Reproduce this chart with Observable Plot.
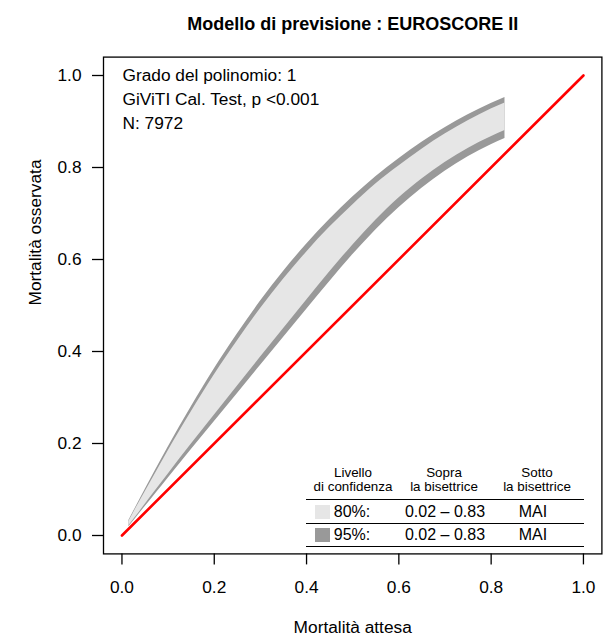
<!DOCTYPE html>
<html>
<head>
<meta charset="utf-8">
<script src="https://cdn.jsdelivr.net/npm/d3@7"></script>
<script src="https://cdn.jsdelivr.net/npm/@observablehq/plot@0.6"></script>
<style>
  html, body { margin: 0; padding: 0; background: #fff; }
  #wrap { position: relative; width: 608px; height: 639px; overflow: hidden; font-family: "Liberation Sans", Arial, sans-serif; }
  #legend { position: absolute; left: 0; top: 0; width: 608px; height: 639px; pointer-events: none; }
  #legend .t { position: absolute; transform: translate(-50%, -50%); white-space: nowrap; color: #000; }
  #legend .h { font-size: 13.4px; line-height: 14px; text-align: center; }
  #legend .r { font-size: 16px; }
  #legend .rule { position: absolute; height: 0; border-top: 1.5px solid #000; }
  #legend .sw { position: absolute; width: 15px; height: 14px; }
</style>
</head>
<body>
<div id="wrap"></div>
<script>
// ---- data ----
const expected = [0.015, 0.03, 0.05, 0.075, 0.1, 0.15, 0.2, 0.25, 0.3, 0.35, 0.4, 0.45, 0.5, 0.55, 0.6, 0.65, 0.7, 0.75, 0.8, 0.83];
const upper95 = [0.0326, 0.0616, 0.0996, 0.1463, 0.1919, 0.2795, 0.362, 0.438, 0.509, 0.574, 0.633, 0.687, 0.7356, 0.780, 0.819, 0.8548, 0.8866, 0.9148, 0.9393, 0.9524];
const upper80 = [0.0306, 0.0586, 0.0946, 0.1393, 0.1839, 0.2685, 0.349, 0.423, 0.493, 0.557, 0.616, 0.670, 0.7186, 0.764, 0.803, 0.8398, 0.8726, 0.9018, 0.9273, 0.9404];
const lower80 = [0.021, 0.0406, 0.0674, 0.1004, 0.1334, 0.1984, 0.2614, 0.3244, 0.3874, 0.4494, 0.5114, 0.5729, 0.6312, 0.6852, 0.7335, 0.775, 0.811, 0.8413, 0.8666, 0.8803];
const lower95 = [0.019, 0.0376, 0.0624, 0.0934, 0.1244, 0.1864, 0.2474, 0.3084, 0.3694, 0.4304, 0.4914, 0.5519, 0.6102, 0.6642, 0.7125, 0.755, 0.792, 0.8233, 0.8496, 0.8633];
const bisectorX = [0, 1];
const bisectorY = [0, 1];
const xTicks = [0, 0.2, 0.4, 0.6, 0.8, 1.0];
const yTicks = [0, 0.2, 0.4, 0.6, 0.8, 1.0];
const titleText = "Modello di previsione : EUROSCORE II";
const xLabel = "Mortalità attesa";
const yLabel = "Mortalità osservata";
const infoLines = ["Grado del polinomio: 1", "GiViTI Cal. Test, p <0.001", "N: 7972"];
const legendHeaders = ["Livello\ndi confidenza", "Sopra\nla bisettrice", "Sotto\nla bisettrice"];
const legendLevels = ["80%:", "95%:"];
const legendAbove = ["0.02 – 0.83", "0.02 – 0.83"];
const legendBelow = ["MAI", "MAI"];
const legendColors = ["#e6e6e6", "#999999"];

const belt = expected.map((x, i) => ({x, u95: upper95[i], u80: upper80[i], l80: lower80[i], l95: lower95[i]}));
const bisector = bisectorX.map((x, i) => ({x, y: bisectorY[i]}));

const W = 608, H = 639;
const mL = 103, mR = 6.6, mT = 56.6, mB = 85.6;
const fmt = d3.format(".1f");

const chart = Plot.plot({
  width: W, height: H,
  marginLeft: mL, marginRight: mR, marginTop: mT, marginBottom: mB,
  style: {fontFamily: "'Liberation Sans', Arial, sans-serif", fontSize: "17.3px", background: "#fff", color: "#000"},
  x: {domain: [-0.04, 1.04]},
  y: {domain: [-0.04, 1.04]},
  marks: [
    Plot.areaY(belt, {x: "x", y1: "l95", y2: "u95", fill: "#999999", curve: "monotone-x"}),
    Plot.areaY(belt, {x: "x", y1: "l80", y2: "u80", fill: "#e6e6e6", curve: "monotone-x"}),
    Plot.line(bisector, {x: "x", y: "y", stroke: "#ff0000", strokeWidth: 2.6, strokeLinecap: "round"}),
    Plot.frame({stroke: "#000", strokeWidth: 1.3}),
    Plot.axisX({ticks: xTicks, tickFormat: fmt, tickSize: 11, tickPadding: 16, label: null, strokeWidth: 1.3}),
    Plot.axisY({ticks: yTicks, tickFormat: fmt, tickSize: 11, tickPadding: 11, label: null, strokeWidth: 1.3}),
    Plot.text([titleText], {frameAnchor: "top", lineAnchor: "middle", dy: -33, fontWeight: "bold", fontSize: 18}),
    Plot.text([xLabel], {frameAnchor: "bottom", lineAnchor: "middle", dy: 74}),
    Plot.text([yLabel], {frameAnchor: "left", lineAnchor: "middle", rotate: -90, dx: -68}),
    Plot.text([infoLines.join("\n")], {frameAnchor: "top-left", dx: 19, dy: 7, lineAnchor: "top", textAnchor: "start", lineHeight: 1.39})
  ]
});

const wrap = document.getElementById("wrap");
wrap.appendChild(chart);

// ---- legend table (HTML overlay) ----
const leg = document.createElement("div");
leg.id = "legend";
wrap.appendChild(leg);
function add(cls, html, x, y, extra) {
  const d = document.createElement("div");
  d.className = cls;
  d.innerHTML = html;
  d.style.left = x + "px"; d.style.top = y + "px";
  if (extra) Object.assign(d.style, extra);
  leg.appendChild(d);
  return d;
}
const colCenters = [353, 444, 537];
legendHeaders.forEach((h, i) => add("t h", h.replace("\n", "<br>"), colCenters[i], 480));
[499, 522.5, 545.5].forEach(y => add("rule", "", 306, y, {width: "278px"}));
legendLevels.forEach((lv, i) => {
  const cy = 511.5 + i * 23;
  add("sw", "", 315, cy - 7, {background: legendColors[i]});
  add("t r", lv, 352, cy);
  add("t r", legendAbove[i], 445, cy);
  add("t r", legendBelow[i], 533, cy);
});
</script>
</body>
</html>
